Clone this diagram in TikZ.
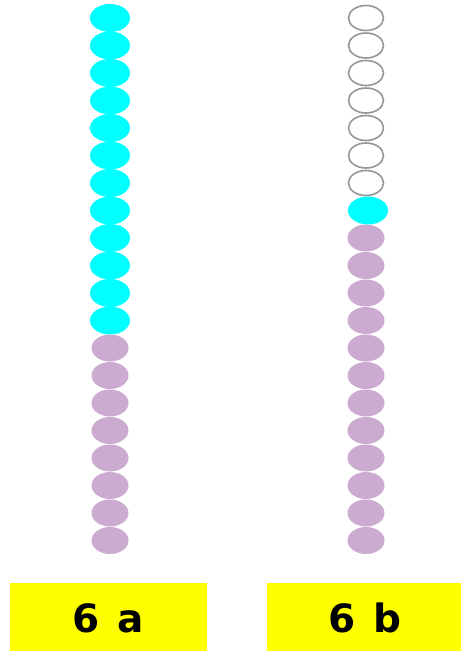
\documentclass[tikz,border=0pt]{standalone}
\usepackage{fontspec}
\setmainfont{DejaVu Sans}
\definecolor{cyanfill}{RGB}{0,255,255}
\definecolor{lilac}{RGB}{203,171,208}
\definecolor{ringgray}{RGB}{150,150,150}
\definecolor{labelyellow}{RGB}{255,255,0}
\tikzset{
  bead/.style={ellipse, inner sep=0pt, minimum width=38pt, minimum height=28pt},
  cyanbead/.style={bead, fill=cyanfill, minimum width=40pt},
  lilacbead/.style={bead, fill=lilac, minimum width=37pt, minimum height=27pt},
  emptybead/.style={bead, draw=ringgray, line width=1.6pt, fill=white, minimum width=35pt, minimum height=25pt},
  labeltext/.style={font=\bfseries\fontsize{39}{44}\selectfont, text=black}
}
\usetikzlibrary{shapes.geometric}
\begin{document}
\begin{tikzpicture}[x=1pt,y=-1pt]
\useasboundingbox (0,0) rectangle (461,651);
% left column
\foreach \i in {0,...,11} {
  \node[cyanbead] (a\i) at (110,{18+27.5*\i}) {};
}
\foreach \i in {12,...,19} {
  \node[lilacbead] (a\i) at (110,{18+27.5*\i}) {};
}
% right column
\foreach \i in {0,...,6} {
  \node[emptybead] (b\i) at (366,{18+27.5*\i}) {};
}
\node[cyanbead] (b7) at (368,{18+27.5*7}) {};
\foreach \i in {8,...,19} {
  \node[lilacbead] (b\i) at (366,{18+27.5*\i}) {};
}
% labels
\fill[labelyellow] (10,583) rectangle (207,651);
\node[labeltext] (la) at (108.5,618) {6\hspace{0.45em}a};
\fill[labelyellow] (267,583) rectangle (461,651);
\node[labeltext] (lb) at (365,618) {6\hspace{0.45em}b};
\end{tikzpicture}
\end{document}
